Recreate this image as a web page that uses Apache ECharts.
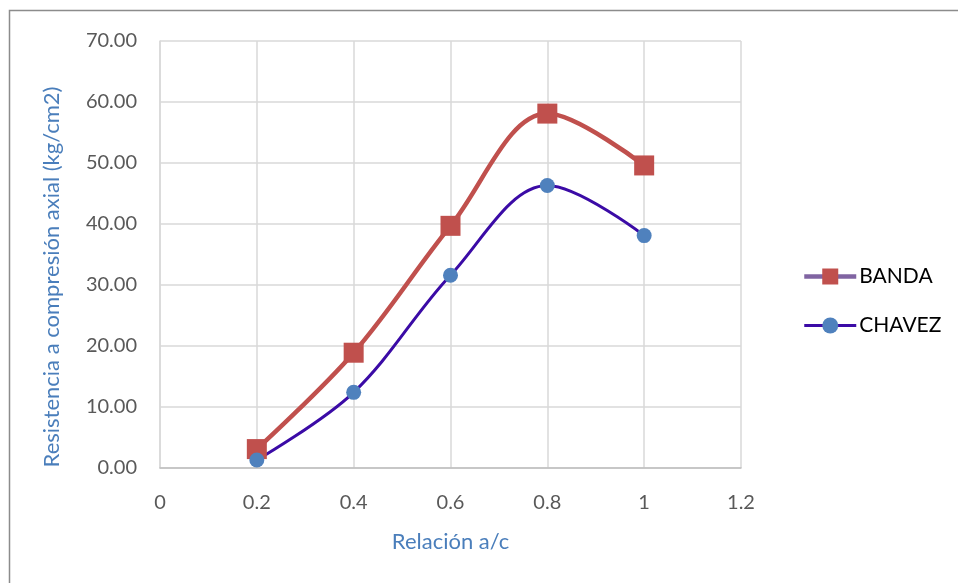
<!DOCTYPE html>
<html>
<head>
<meta charset="utf-8">
<script src="https://cdn.jsdelivr.net/npm/echarts@6/dist/echarts.min.js"></script>
<style>html,body{margin:0;padding:0;background:#fff}#c{width:958px;height:583px}</style>
</head>
<body>
<div id="c"></div>
<script>
const xValues = [0.2, 0.4, 0.6, 0.8, 1.0];
const bandaValues = [3.1, 18.9, 39.7, 58.1, 49.6];
const chavezValues = [1.3, 12.4, 31.6, 46.3, 38.1];
const seriesNames = ['BANDA', 'CHAVEZ'];
const xTitle = 'Relación a/c';
const yTitle = 'Resistencia a compresión axial (kg/cm2)';

const FONT = 'Lato, "Open Sans", sans-serif';
const chart = echarts.init(document.getElementById('c'));
chart.setOption({
  animation: false,
  backgroundColor: '#fff',
  graphic: [{
    type: 'rect', silent: true, z: -10,
    shape: { x: 9.5, y: 10.5, width: 1000, height: 700 },
    style: { fill: 'none', stroke: '#8c8c8c', lineWidth: 1.5 }
  }, {
    type: 'text', silent: true,
    x: 52, y: 277, rotation: Math.PI / 2,
    style: { text: yTitle, fontFamily: FONT, fontSize: 22, fill: '#4A7EBB',
      align: 'center', verticalAlign: 'middle' }
  }],
  grid: { left: 160, right: 217, top: 41, bottom: 115, containLabel: false },
  legend: {
    orient: 'vertical',
    left: 797, top: 261,
    itemWidth: 52, itemHeight: 20, itemGap: 28,
    textStyle: { fontFamily: FONT, fontSize: 21, color: '#000', padding: [0, 0, 0, -2] },
    data: [
      { name: 'BANDA', lineStyle: { color: '#8064A2', width: 4.5 } },
      { name: 'CHAVEZ', lineStyle: { color: '#3B0BA6', width: 3 } }
    ]
  },
  xAxis: {
    type: 'value', min: 0, max: 1.2, interval: 0.2,
    name: xTitle, nameLocation: 'middle', nameGap: 63,
    nameTextStyle: { fontFamily: FONT, fontSize: 22, color: '#4A7EBB' },
    axisLine: { show: true, lineStyle: { color: '#BFBFBF', width: 1.5 } },
    axisTick: { show: false },
    axisLabel: { fontFamily: FONT, fontSize: 20, color: '#595959', margin: 25,
      formatter: v => String(Math.round(v * 10) / 10) },
    splitLine: { show: true, lineStyle: { color: '#D9D9D9', width: 1.5 } }
  },
  yAxis: {
    type: 'value', min: 0, max: 70, interval: 10,
    axisLine: { show: true, lineStyle: { color: '#D9D9D9', width: 1.5 } },
    axisTick: { show: false },
    axisLabel: { fontFamily: FONT, fontSize: 20, color: '#595959', margin: 23,
      formatter: v => v.toFixed(2) },
    splitLine: { show: true, lineStyle: { color: '#D9D9D9', width: 1.5 } }
  },
  series: [
    {
      name: seriesNames[0], type: 'line', smooth: 0.35,
      data: xValues.map((x, i) => [x, bandaValues[i]]),
      symbol: 'rect', symbolSize: 20,
      itemStyle: { color: '#C0504D' },
      lineStyle: { color: '#C0504D', width: 4.5 }
    },
    {
      name: seriesNames[1], type: 'line', smooth: 0.35,
      data: xValues.map((x, i) => [x, chavezValues[i]]),
      symbol: 'circle', symbolSize: 15,
      itemStyle: { color: '#4F81BD' },
      lineStyle: { color: '#3B0BA6', width: 3 }
    }
  ]
});
</script>
</body>
</html>
